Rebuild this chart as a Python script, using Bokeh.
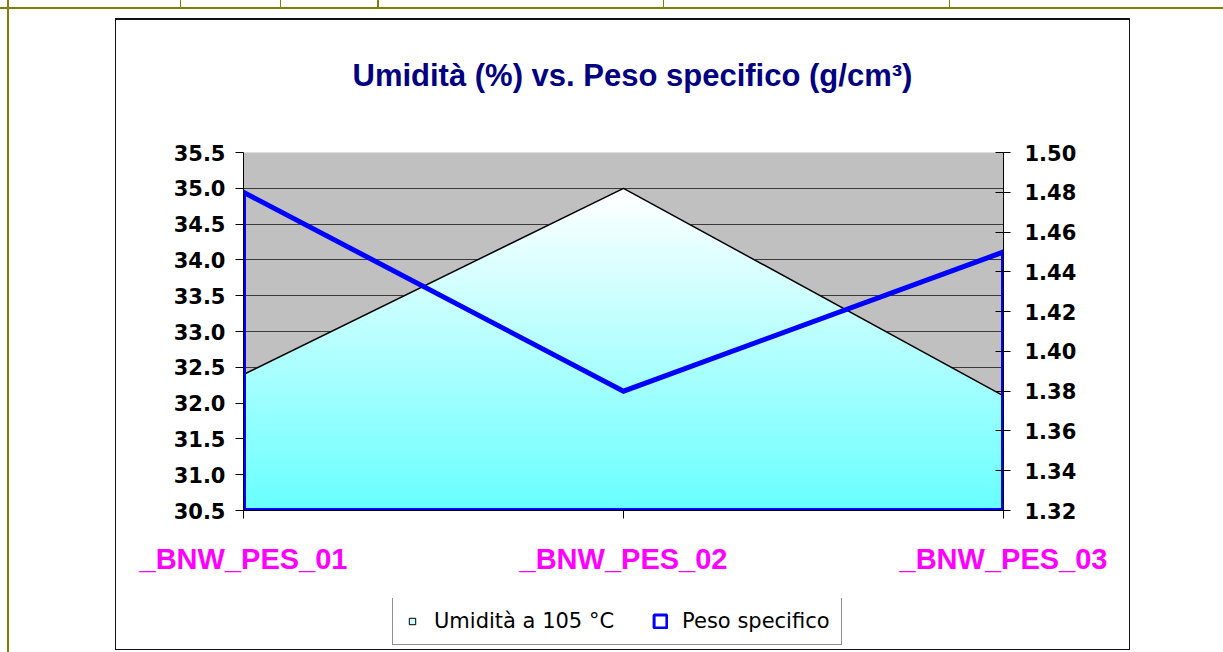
import numpy as np
from bokeh.plotting import figure
from bokeh.layouts import column
from bokeh.models import (Range1d, LinearAxis, FixedTicker, PrintfTickFormatter,
                          Legend, LegendItem, InlineStyleSheet, Label)
from bokeh.embed import file_html
from bokeh.resources import INLINE

# ---- data ----
categories = ["_BNW_PES_01", "_BNW_PES_02", "_BNW_PES_03"]
umidita = [32.4, 35.0, 32.1]
peso = [1.48, 1.38, 1.45]
left_ticks = [30.5, 31.0, 31.5, 32.0, 32.5, 33.0, 33.5, 34.0, 34.5, 35.0, 35.5]
right_ticks = [1.32, 1.34, 1.36, 1.38, 1.40, 1.42, 1.44, 1.46, 1.48, 1.50]
title_text = "Umidità (%) vs. Peso specifico (g/cm³)"
legend_labels = ["Umidità a 105 °C", "Peso specifico"]

xs = list(range(len(categories)))

W, H = 1223, 652
H_TITLE = 100
H_LEG = 54
FRAME_TOP = 152
FRAME_H = 358

# ---- title strip ----
p0 = figure(width=W, height=H_TITLE, output_backend="svg", toolbar_location=None,
            x_range=Range1d(0, 1), y_range=Range1d(0, 1), min_border=0,
            outline_line_color=None, background_fill_color="white",
            border_fill_color="white")
p0.axis.visible = False
p0.grid.visible = False
p0.add_layout(Label(x=109, y=H_TITLE - 75, x_units="screen", y_units="screen",
                    text=title_text, text_font="Liberation Sans",
                    text_font_style="bold", text_font_size="31px",
                    text_color="#000080", text_align="left",
                    text_baseline="alphabetic"))

# ---- main chart ----
p = figure(frame_width=760, frame_height=FRAME_H, output_backend="svg",
           toolbar_location=None,
           x_range=Range1d(xs[0], xs[-1]),
           y_range=Range1d(left_ticks[0], left_ticks[-1]),
           min_border_left=243, min_border_right=220,
           min_border_top=FRAME_TOP - H_TITLE,
           min_border_bottom=H - H_LEG - FRAME_TOP - FRAME_H,
           background_fill_color="#C0C0C0", border_fill_color="white",
           outline_line_color=None)

xa = p.below[0]
yl = p.left[0]

# grid
p.xgrid.visible = False
p.ygrid.grid_line_color = "#3a3a3a"
p.ygrid.grid_line_width = 1

# left axis
yl.ticker = FixedTicker(ticks=left_ticks)
yl.formatter = PrintfTickFormatter(format="%.1f")
yl.major_tick_in = 0
yl.major_tick_out = 8
yl.minor_tick_in = 0
yl.minor_tick_out = 0
yl.major_label_standoff = 10
yl.major_label_text_font = "DejaVu Sans"
yl.major_label_text_font_style = "bold"
yl.major_label_text_font_size = "21px"
yl.major_label_text_color = "black"
yl.axis_line_color = "black"
yl.major_tick_line_color = "black"

# x axis
xa.ticker = FixedTicker(ticks=xs)
xa.major_label_overrides = {i: c for i, c in zip(xs, categories)}
xa.major_tick_in = 0
xa.major_tick_out = 8
xa.minor_tick_in = 0
xa.minor_tick_out = 0
xa.major_label_standoff = 24
xa.major_label_text_font = "Liberation Sans"
xa.major_label_text_font_style = "bold"
xa.major_label_text_font_size = "29px"
xa.major_label_text_color = "#FF00FF"
xa.axis_line_color = "black"

# right axis
p.extra_y_ranges = {"peso": Range1d(right_ticks[0], right_ticks[-1])}
yr = LinearAxis(y_range_name="peso", ticker=FixedTicker(ticks=right_ticks),
                formatter=PrintfTickFormatter(format="%.2f"))
yr.major_tick_in = 8
yr.major_tick_out = 7
yr.minor_tick_in = 0
yr.minor_tick_out = 0
yr.major_label_standoff = 14
yr.major_label_text_font = "DejaVu Sans"
yr.major_label_text_font_style = "bold"
yr.major_label_text_font_size = "21px"
yr.major_label_text_color = "black"
yr.axis_line_color = "black"
p.add_layout(yr, "right")

# umidita area with vertical gradient (white at top -> cyan at bottom)
xd = np.linspace(xs[0], xs[-1], 801)
fd = np.interp(xd, xs, umidita)
top = max(umidita)
base = left_ticks[0]
levels = np.linspace(top, base, 61)[:-1]
for b in levels:
    t = (b - base) / (top - base)
    r = int(round(102 + 153 * t))
    color = "#%02X%02X%02X" % (r, 255, 255)
    p.varea(x=xd, y1=base, y2=np.minimum(fd, b), fill_color=color, fill_alpha=1)
p.line(xs, umidita, line_color="black", line_width=1.5)

# peso specifico: area without fill, blue border
px = [xs[0]] + xs + [xs[-1]]
py = [right_ticks[0]] + peso + [right_ticks[0]]
p.patch(px, py, fill_alpha=0, line_color="#0000FF", line_width=5,
        line_join="miter", y_range_name="peso")

# ---- legend strip (own small figure under the chart) ----
p2 = figure(width=W, height=H_LEG, output_backend="svg", toolbar_location=None,
            x_range=Range1d(0, 1), y_range=Range1d(0, 1), min_border=0,
            outline_line_color=None, background_fill_color="white",
            border_fill_color="white")
p2.axis.visible = False
p2.grid.visible = False
nan = np.array([np.nan])
r1 = p2.scatter(x=nan, y=nan, marker="square", size=8, fill_color="#CCFFFF",
                line_color="black", line_width=1)
r2 = p2.quad(left=nan, right=nan, top=nan, bottom=nan, fill_color="white",
             line_color="#0000FF", line_width=3)
legend = Legend(items=[LegendItem(label=legend_labels[0], renderers=[r1]),
                       LegendItem(label=legend_labels[1], renderers=[r2])],
                orientation="horizontal", location=(149, 7), margin=0,
                glyph_width=16, glyph_height=16, label_standoff=14, spacing=38,
                padding=11, border_line_color="#222222", border_line_width=1,
                background_fill_color="white", background_fill_alpha=1,
                label_text_font="DejaVu Sans", label_text_font_size="21px",
                label_text_color="black")
p2.add_layout(legend)

layout = column(p0, p, p2, spacing=0)

# chart border and the surrounding table lines of the page
olive = "#808000"
css = """
:host { position: relative; }
:host::before {
  content: ""; position: absolute; left: 0; top: 0; width: %dpx; height: %dpx;
  pointer-events: none; z-index: 5;
  background:
    linear-gradient(%s,%s) 0 7px / 100%% 2px no-repeat,
    linear-gradient(%s,%s) 7px 0 / 2px 100%% no-repeat,
    linear-gradient(%s,%s) 180px 0 / 1px 8px no-repeat,
    linear-gradient(%s,%s) 280px 0 / 1px 8px no-repeat,
    linear-gradient(%s,%s) 377px 0 / 2px 8px no-repeat,
    linear-gradient(%s,%s) 663px 0 / 1px 8px no-repeat,
    linear-gradient(%s,%s) 949px 0 / 1px 8px no-repeat;
}
:host::after {
  content: ""; position: absolute; left: 115px; top: 18px; width: 1015px; height: 632px;
  box-sizing: border-box; border: 1.5px solid #111; border-top-width: 2px;
  pointer-events: none; z-index: 6;
}
""" % ((W, H) + (olive,) * 14)
layout.stylesheets = [InlineStyleSheet(css=css)]

open("out.html", "w").write(file_html(layout, INLINE))
